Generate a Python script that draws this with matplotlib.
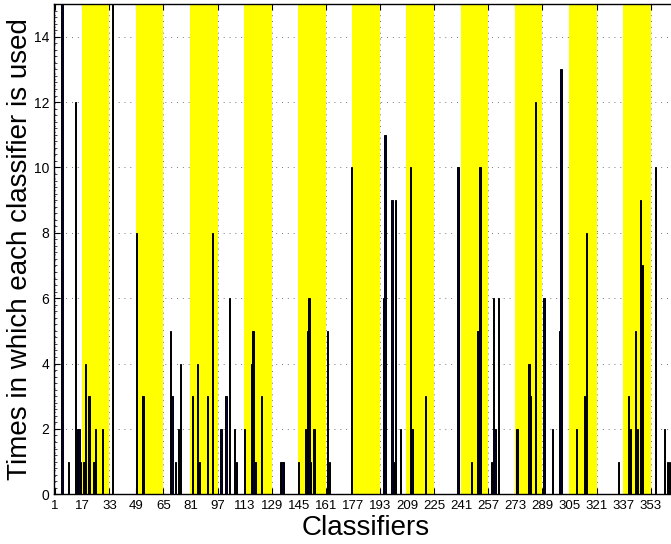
import matplotlib
matplotlib.use("Agg")
import matplotlib.pyplot as plt
from matplotlib.ticker import MultipleLocator

plt.rcParams['font.family'] = ['Liberation Sans', 'DejaVu Sans']

# classifier index and how many times it was picked
classifiers = [5, 9, 13, 14, 15, 16, 18, 19, 21, 24, 25, 29, 35, 49, 53,
               69, 70, 72, 74, 75, 82, 85, 86, 91, 94, 99, 102, 104, 107, 108,
               113, 117, 118, 119, 123, 134, 135, 136, 145, 149, 150, 151, 152, 154,
               162, 163, 176, 195, 196, 200, 201, 202, 205, 211, 212, 220,
               239, 247, 251, 252, 259, 260, 261, 263, 274, 281, 282, 285, 290,
               295, 299, 300, 309, 314, 315, 334, 340, 341, 344, 345, 347, 348,
               356, 361, 363, 364]
counts = [15, 1, 12, 2, 2, 1, 1, 4, 3, 1, 2, 2, 15, 8, 3,
          5, 3, 1, 2, 4, 3, 4, 1, 3, 8, 2, 3, 6, 2, 1,
          2, 4, 5, 1, 3, 1, 1, 1, 1, 2, 5, 6, 1, 2,
          5, 1, 10, 6, 11, 9, 1, 9, 2, 10, 2, 3,
          10, 1, 5, 10, 1, 6, 2, 6, 2, 4, 3, 12, 6,
          2, 5, 13, 2, 3, 8, 1, 3, 2, 5, 2, 9, 7,
          10, 2, 1, 1]

band_starts = [17, 49, 81, 113, 145, 177, 209, 241, 273, 305, 337]
band_len = 16
xtick_pos = [1, 17, 33, 49, 65, 81, 97, 113, 129, 145, 161, 177, 193, 209,
             225, 241, 257, 273, 289, 305, 321, 337, 353]
ytick_pos = [0, 2, 4, 6, 8, 10, 12, 14]

W, H = 671, 544
fig = plt.figure(figsize=(W / 100, H / 100), dpi=100)
# axes runs a bit past the right border, like the cropped original
ax = fig.add_axes([53.5 / W, (H - 494.3) / H, 624.3 / W, 490.3 / H])

for s in band_starts:
    ax.axvspan(s - 0.4, s + band_len, color='#ffff00', lw=0, zorder=1)

ax.bar(classifiers, counts, width=0.8, color='#00003c', edgecolor='black',
       linewidth=0.7, zorder=3)

ax.set_xlim(0, 369)
ax.set_ylim(0, 15)
ax.set_xticks(xtick_pos)
ax.set_yticks(ytick_pos)
ax.yaxis.set_minor_locator(MultipleLocator(0.2))
ax.tick_params(axis='both', which='major', direction='in', length=4, width=0.8,
               top=True, right=True, labelsize=10, pad=3)
ax.tick_params(axis='y', which='minor', direction='in', length=2, width=0.5,
               right=True)
ax.tick_params(axis='x', which='major', labelsize=9.5, pad=4)

ax.set_axisbelow(True)
ax.grid(True, which='major', linestyle=(0, (1, 5)), color='#777777', linewidth=0.7)

for sp in ax.spines.values():
    sp.set_linewidth(1.0)
    sp.set_color('black')

ax.set_xlabel('Classifiers', fontsize=20)
ax.set_ylabel('Times in which each classifier is used', fontsize=20)
ax.xaxis.set_label_coords(0.5, -0.0687)
ax.xaxis.label.set_va('center')
ax.yaxis.set_label_coords(-0.0537, 0.5)
ax.yaxis.label.set_va('center')

fig.savefig('out.png', dpi=100)
